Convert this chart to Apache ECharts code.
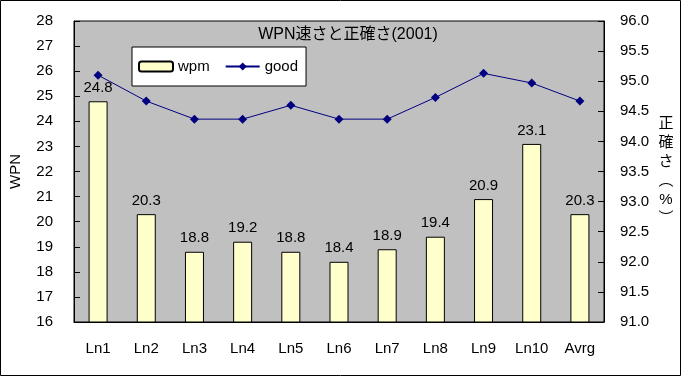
<!DOCTYPE html>
<html><head><meta charset="utf-8">
<style>html,body{margin:0;padding:0;background:#fff}#c{width:684px;height:377px}</style>
<script src="https://cdn.jsdelivr.net/npm/echarts@6/dist/echarts.min.js"></script>
</head><body><div id="c"></div>
<script>
const categories = ['Ln1','Ln2','Ln3','Ln4','Ln5','Ln6','Ln7','Ln8','Ln9','Ln10','Avrg'];
const wpm = [24.8, 20.3, 18.8, 19.2, 18.8, 18.4, 18.9, 19.4, 20.9, 23.1, 20.3];
const good = [95.1, 94.67, 94.37, 94.37, 94.6, 94.37, 94.37, 94.73, 95.13, 94.97, 94.67];
const titleText = 'WPN速さと正確さ(2001)';
const leftName = 'WPN';
const rightName = '正\n確\nさ\n︵\n%\n︶';

const FONT = '"Liberation Sans", "Noto Sans CJK JP", sans-serif';
const chart = echarts.init(document.getElementById('c'), null, {renderer: 'canvas'});
chart.setOption({
  animation: false,
  backgroundColor: '#fff',
  textStyle: {fontFamily: FONT, color: '#000'},
  title: {
    text: titleText, left: 343, top: 22, textAlign: 'center',
    textStyle: {fontSize: 16, fontWeight: 'normal', color: '#000', fontFamily: FONT}
  },
  legend: {
    left: 132, top: 47,
    backgroundColor: '#fff', borderColor: '#000', borderWidth: 1,
    padding: [12, 8, 12, 6],
    itemWidth: 34, itemHeight: 10, itemGap: 15,
    textStyle: {fontSize: 15, color: '#000', fontFamily: FONT},
    data: [{name: 'wpm'}, {name: 'good'}]
  },
  grid: {left: 74, right: 80, top: 21, bottom: 55, show: true,
    backgroundColor: '#C0C0C0', borderColor: '#000', borderWidth: 1},
  xAxis: {
    type: 'category', data: categories,
    axisLine: {lineStyle: {color: '#000'}},
    axisTick: {inside: true, length: 5, lineStyle: {color: '#000'}},
    axisLabel: {fontSize: 15, color: '#000', margin: 19, fontFamily: FONT}
  },
  yAxis: [{
    type: 'value', min: 16, max: 28, interval: 1,
    name: leftName, nameLocation: 'middle', nameGap: 51,
    nameTextStyle: {fontSize: 15, color: '#000', fontFamily: FONT},
    axisLine: {show: true, lineStyle: {color: '#000'}},
    axisTick: {show: true, inside: true, length: 6, lineStyle: {color: '#000'}},
    axisLabel: {fontSize: 15, color: '#000', margin: 21, fontFamily: FONT},
    splitLine: {show: false}
  }, {
    type: 'value', min: 91, max: 96, interval: 0.5, position: 'right',
    name: rightName, nameLocation: 'middle', nameGap: 62, nameRotate: 0,
    nameTextStyle: {fontSize: 15, color: '#000', align: 'center', verticalAlign: 'middle', lineHeight: 19, fontFamily: FONT},
    axisLine: {show: true, lineStyle: {color: '#000'}},
    axisTick: {show: true, inside: true, length: 6, lineStyle: {color: '#000'}},
    axisLabel: {fontSize: 15, color: '#000', margin: 16, fontFamily: FONT,
      formatter: v => v.toFixed(1)},
    splitLine: {show: false}
  }],
  series: [{
    name: 'wpm', type: 'bar', data: wpm, barWidth: 19, yAxisIndex: 0,
    itemStyle: {color: '#FFFFCC', borderColor: '#000', borderWidth: 1},
    label: {show: true, position: 'top', distance: 6, fontSize: 15, color: '#000', fontFamily: FONT,
      formatter: p => p.value.toFixed(1)}
  }, {
    name: 'good', type: 'line', data: good, yAxisIndex: 1,
    symbol: 'diamond', symbolSize: 9, z: 5,
    lineStyle: {color: '#000080', width: 1},
    itemStyle: {color: '#000080'}
  }],
  graphic: [{
    type: 'rect', shape: {x: 0.5, y: 0.5, width: 680, height: 375},
    style: {fill: 'none', stroke: '#000', lineWidth: 1}, silent: true, z: 100
  }]
});
</script></body></html>
